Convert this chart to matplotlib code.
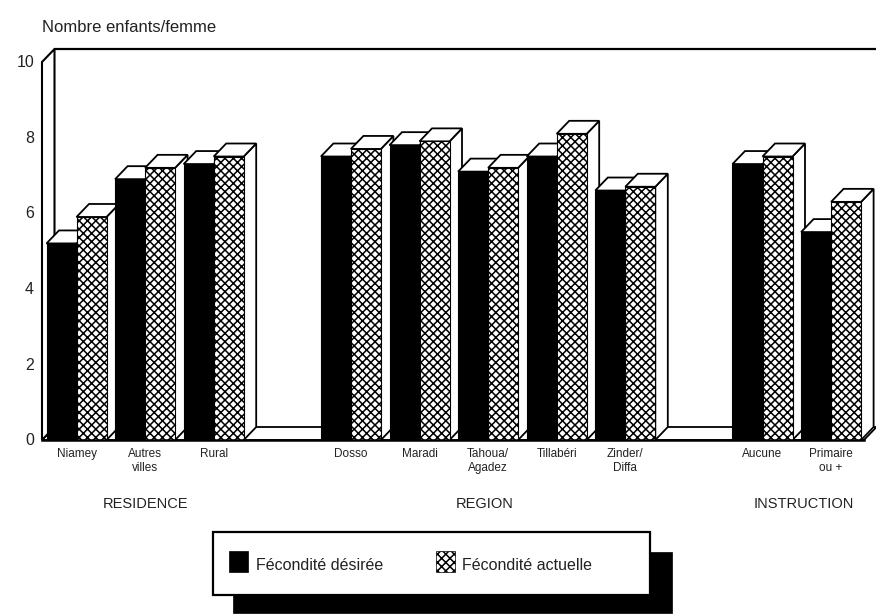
import matplotlib
matplotlib.use("Agg")
import matplotlib.pyplot as plt
from matplotlib.patches import Polygon, Rectangle

plt.rcParams['font.family'] = ['Liberation Sans', 'DejaVu Sans']
plt.rcParams['hatch.linewidth'] = 1.1

categories = ["Niamey", "Autres\nvilles", "Rural", "Dosso", "Maradi", "Tahoua/\nAgadez",
              "Tillabéri", "Zinder/\nDiffa", "Aucune", "Primaire\nou +"]
positions = [0, 1, 2, 4, 5, 6, 7, 8, 10, 11]
desiree = [5.2, 6.9, 7.3, 7.5, 7.8, 7.1, 7.5, 6.6, 7.3, 5.5]
actuelle = [5.9, 7.2, 7.5, 7.7, 7.9, 7.2, 8.1, 6.7, 7.5, 6.3]
y_ticks = [0, 2, 4, 6, 8, 10]
groups = ["RESIDENCE", "REGION", "INSTRUCTION"]
group_pos = [1.0, 5.95, 10.6]

W, H = 876, 614
SLOT = 68.6   # px per category
UNIT = 37.8   # px per child
X0 = 76.5     # px of category 0
Y0 = 440      # px of value 0
BAR = 30 / SLOT
DX = 12.5 / SLOT
DY = 13 / UNIT
INK = "#222222"

fig = plt.figure(figsize=(W / 100, H / 100), dpi=100)
ax = fig.add_axes([0, 0, 1, 1])
ax.set_xlim(-X0 / SLOT, (W - X0) / SLOT)
ax.set_ylim((Y0 - H) / UNIT, Y0 / UNIT)
ax.axis("off")

left = (42 - X0) / SLOT
right = (864 - X0) / SLOT
end = (W - X0) / SLOT


def poly(pts, z, fc="white", lw=1.3):
    ax.add_patch(Polygon(pts, closed=True, fc=fc, ec="black", lw=lw, zorder=z, joinstyle="miter"))


# walls and floor
poly([(left, 0), (left + DX, DY), (right + DX, DY), (right, 0)], 1)
poly([(left, 0), (left, 10), (left + DX, 10 + DY), (left + DX, DY)], 1, lw=1.5)
ax.plot([left + DX, end], [10 + DY, 10 + DY], color="black", lw=1.6, zorder=1)


def bar3d(x0, v, z, hatched):
    x1 = x0 + BAR
    poly([(x1, 0), (x1 + DX, DY), (x1 + DX, v + DY), (x1, v)], z)
    poly([(x0, v), (x0 + DX, v + DY), (x1 + DX, v + DY), (x1, v)], z)
    if hatched:
        ax.add_patch(Rectangle((x0, 0), BAR, v, fc="white", ec="black", lw=0.8, hatch="xxxx", zorder=z + 0.1))
    else:
        ax.add_patch(Rectangle((x0, 0), BAR, v, fc="black", ec="black", lw=0.8, zorder=z + 0.1))


for i, (pos, a, b) in enumerate(zip(positions, desiree, actuelle)):
    bar3d(pos - BAR, a, 2 + i * 2, False)
    bar3d(pos, b, 3 + i * 2, True)

ax.plot([left, right], [0, 0], color="black", lw=1.8, zorder=40)

for t in y_ticks:
    ax.text(left - 8 / SLOT, t - 0.02, str(t), ha="right", va="center", fontsize=11.5, color=INK)

ax.text(left, 11.0, "", fontsize=1)
ax.text(left, (440 - 28) / UNIT, "Nombre enfants/femme", ha="left", va="center", fontsize=12, color=INK)

for pos, name in zip(positions, categories):
    ax.text(pos, -0.2, name, ha="center", va="top", fontsize=8.5, color=INK, linespacing=1.25)

for pos, name in zip(group_pos, groups):
    ax.text(pos, -1.7, name, ha="center", va="center", fontsize=10.5, color=INK)


# legend box, in figure pixels
def px_rect(x0, y0, x1, y1, **kw):
    fig.add_artist(Rectangle((x0 / W, 1 - y1 / H), (x1 - x0) / W, (y1 - y0) / H,
                             transform=fig.transFigure, **kw))


px_rect(233, 552, 672, 613, fc="black", ec="black", lw=0.5, zorder=50)
px_rect(213, 532, 650, 595, fc="white", ec="black", lw=1.6, zorder=51)
px_rect(229, 551, 248, 572, fc="black", ec="black", lw=0.5, zorder=52)
px_rect(436, 551, 455, 572, fc="white", ec="black", lw=0.5, hatch="xxxx", zorder=52)
fig.text(256 / W, 1 - 565 / H, "Fécondité désirée", ha="left", va="center", fontsize=11.5, color=INK, zorder=53)
fig.text(462 / W, 1 - 565 / H, "Fécondité actuelle", ha="left", va="center", fontsize=11.5, color=INK, zorder=53)

fig.savefig("out.png", dpi=100)
